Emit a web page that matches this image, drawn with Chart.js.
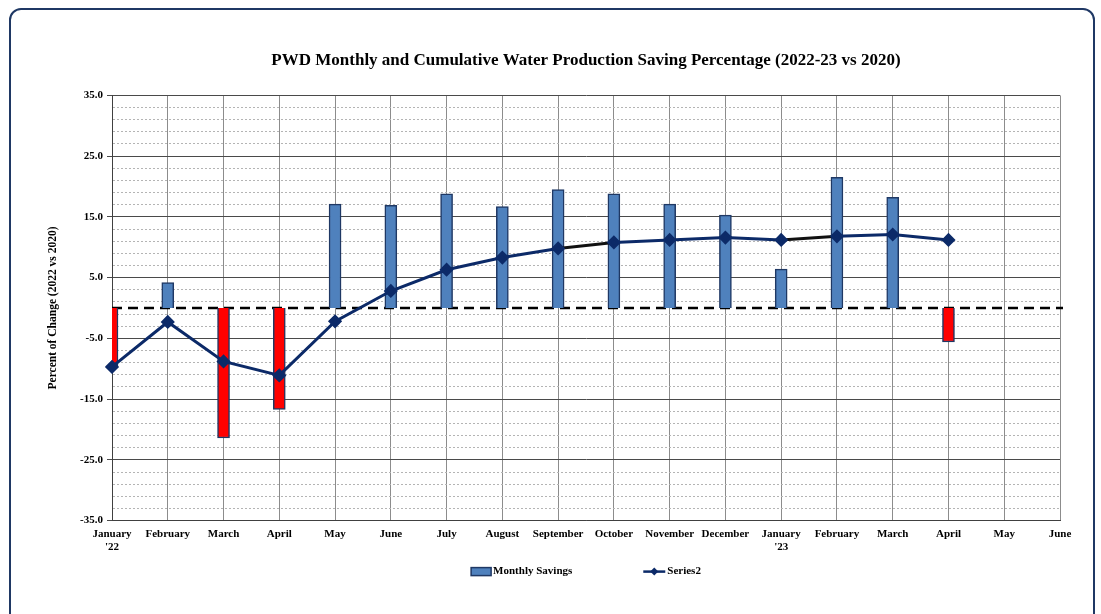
<!DOCTYPE html>
<html>
<head>
<meta charset="utf-8">
<script src="https://cdn.jsdelivr.net/npm/chart.js@4/dist/chart.umd.min.js"></script>
<style>
  html, body { margin: 0; padding: 0; background: #fff; overflow: hidden; }
  #wrap { position: relative; width: 1101px; height: 614px; overflow: hidden; }
  #card { position: absolute; left: 9px; top: 8px; width: 1086px; height: 650px;
          border: 2px solid #1f3864; border-radius: 12px; box-sizing: border-box; }
  #box { position: absolute; left: 0; top: 0; width: 1140px; height: 614px; }
</style>
</head>
<body>
<div id="wrap">
  <div id="card"></div>
  <div id="box"><canvas id="chart"></canvas></div>
</div>
<script>
const monthLabels = [
  ['January', "'22"], 'February', 'March', 'April', 'May', 'June', 'July', 'August',
  'September', 'October', 'November', 'December', ['January', "'23"], 'February',
  'March', 'April', 'May', 'June'
];
const monthlySavings = [-9.7, 4.2, -21.4, -16.7, 17.1, 16.9, 18.8, 16.7, 19.5, 18.8, 17.1, 15.3, 6.4, 21.5, 18.2, -5.6, null, null];
const cumulativeSavings = [-9.7, -2.3, -8.8, -11.1, -2.2, 2.8, 6.3, 8.3, 9.8, 10.8, 11.2, 11.6, 11.2, 11.8, 12.1, 11.2, null, null];
const yMin = -35;
const yMax = 35;
const minorStep = 2;
const majorStep = 10;

const blue = '#4f81bd';
const red = '#ff0000';
const navy = '#1f3864';
const lineNavy = '#0c2a68';
const blackSegments = [8, 12];
const serif = '"Liberation Serif", "Times New Roman", serif';

Chart.defaults.font.family = serif;
Chart.defaults.font.weight = 'bold';
Chart.defaults.font.size = 11;
Chart.defaults.color = '#000';

const isMajor = v => Math.round(v - yMin) % majorStep === 0;

// dashed line on zero (the x axis crossing in the original)
const zeroLine = {
  id: 'zeroLine',
  beforeDatasetsDraw(chart) {
    const {ctx, chartArea, scales} = chart;
    const y = scales.y.getPixelForValue(0);
    ctx.save();
    ctx.strokeStyle = '#000';
    ctx.lineWidth = 2.5;
    ctx.setLineDash([10, 6]);
    ctx.beginPath();
    ctx.moveTo(chartArea.left, y);
    ctx.lineTo(chartArea.right + 3, y);
    ctx.stroke();
    ctx.restore();
  }
};

// legend row below the axis, spaced like the original
const bottomLegend = {
  id: 'bottomLegend',
  afterDraw(chart) {
    const {ctx, chartArea} = chart;
    const bars = chart.data.datasets.find(d => d.type === 'bar');
    const line = chart.data.datasets.find(d => d.type === 'line');
    ctx.save();
    ctx.font = 'bold 11px ' + serif;
    const w1 = ctx.measureText(bars.label).width;
    const w2 = ctx.measureText(line.label).width;
    const total = 20 + 2 + w1 + 71 + 22 + 2 + w2;
    let x = (chartArea.left + chartArea.right) / 2 - total / 2;
    const y = chartArea.bottom + 51;

    ctx.fillStyle = blue;
    ctx.fillRect(x, y - 4, 20, 8);
    ctx.strokeStyle = navy;
    ctx.lineWidth = 1.5;
    ctx.strokeRect(x, y - 4, 20, 8);
    x += 22;
    ctx.fillStyle = '#000';
    ctx.textBaseline = 'middle';
    ctx.fillText(bars.label, x, y);
    x += w1 + 71;

    ctx.strokeStyle = lineNavy;
    ctx.lineWidth = 2.5;
    ctx.beginPath();
    ctx.moveTo(x, y);
    ctx.lineTo(x + 22, y);
    ctx.stroke();
    ctx.fillStyle = lineNavy;
    ctx.beginPath();
    ctx.moveTo(x + 11, y - 4);
    ctx.lineTo(x + 15, y);
    ctx.lineTo(x + 11, y + 4);
    ctx.lineTo(x + 7, y);
    ctx.closePath();
    ctx.fill();
    x += 24;
    ctx.fillStyle = '#000';
    ctx.fillText(line.label, x, y);
    ctx.restore();
  }
};

new Chart(document.getElementById('chart'), {
  data: {
    labels: monthLabels,
    datasets: [
      {
        type: 'line',
        label: 'Series2',
        data: cumulativeSavings,
        borderColor: lineNavy,
        backgroundColor: lineNavy,
        borderWidth: 3,
        tension: 0,
        pointStyle: 'rectRot',
        pointRadius: 5,
        pointBackgroundColor: lineNavy,
        pointBorderColor: lineNavy,
        segment: {
          borderColor: ctx => blackSegments.includes(ctx.p0DataIndex) ? '#111' : lineNavy
        },
        order: 1
      },
      {
        type: 'bar',
        label: 'Monthly Savings',
        data: monthlySavings,
        backgroundColor: ctx => ctx.raw < 0 ? red : blue,
        borderColor: navy,
        borderWidth: 1.5,
        barThickness: 12,
        clip: 0,
        order: 2
      }
    ]
  },
  options: {
    responsive: true,
    maintainAspectRatio: false,
    animation: false,
    layout: { padding: { left: 42, right: 10, top: 0, bottom: 53 } },
    plugins: {
      legend: { display: false },
      tooltip: { enabled: false },
      title: {
        display: true,
        text: 'PWD Monthly and Cumulative Water Production Saving Percentage (2022-23 vs 2020)',
        font: { size: 17, weight: 'bold', family: serif },
        color: '#000',
        padding: { top: 50, bottom: 25 }
      }
    },
    scales: {
      x: {
        offset: false,
        grid: { offset: false, color: '#8c8c8c', drawTicks: false },
        border: { color: '#404040', width: 1 },
        ticks: { padding: 7, maxRotation: 0, autoSkip: false }
      },
      y: {
        min: yMin,
        max: yMax,
        afterFit: s => { s.width = 70; },
        ticks: {
          stepSize: minorStep,
          autoSkip: false,
          padding: 4,
          callback: v => isMajor(v) ? v.toFixed(1) : ''
        },
        grid: {
          color: ctx => ctx.tick && isMajor(ctx.tick.value) ? '#4a4a4a' : '#b4b4b4',
          tickColor: ctx => ctx.tick && isMajor(ctx.tick.value) ? '#4a4a4a' : 'rgba(0,0,0,0)',
          tickLength: 5
        },
        border: {
          color: '#404040',
          width: 1,
          dash: ctx => ctx.tick && !isMajor(ctx.tick.value) ? [2, 2] : []
        },
        title: {
          display: true,
          text: 'Percent of Change (2022 vs 2020)',
          font: { size: 11.5, weight: 'bold', family: serif },
          padding: { top: 4, bottom: 0 }
        }
      },
      yR: {
        type: 'linear',
        position: 'right',
        min: yMin,
        max: yMax,
        afterFit: s => { s.width = 70; },
        grid: { display: false, drawOnChartArea: false },
        ticks: { display: false },
        border: { display: false }
      }
    }
  },
  plugins: [zeroLine, bottomLegend]
});
</script>
</body>
</html>
